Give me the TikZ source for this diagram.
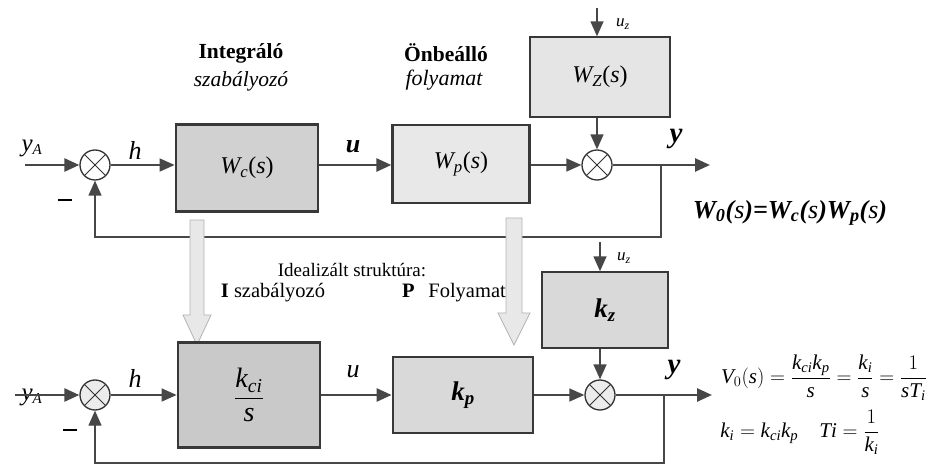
\documentclass[tikz,border=0pt]{standalone}
\usepackage{fontspec}
\setmainfont{Liberation Serif}[ItalicFont={Liberation Serif Italic}, BoldFont={Liberation Serif Bold}, BoldItalicFont={Liberation Serif Bold Italic}]
\usetikzlibrary{arrows.meta,calc}
\newcommand\mi[1]{\mathit{#1}}
\begin{document}
\begin{tikzpicture}[x=1pt,y=-1pt,
  tip/.style={-{Triangle[length=15pt,width=13pt]}},
  conn/.style={draw=black!72, line width=2.6pt, tip},
  thinconn/.style={draw=black!72, line width=1.5pt, tip},
  fb/.style={draw=black!72, line width=1.3pt},
  fbarrow/.style={fb, tip},
  blk/.style={draw=black!78, line width=2.8pt, inner sep=0pt},
  blkthin/.style={draw=black!78, line width=1.4pt, inner sep=0pt},
  sum/.style={circle, draw=black!80, line width=1.3pt, minimum size=30pt, inner sep=0pt, fill=white,
    path picture={\draw[line width=1pt,black!80] (path picture bounding box.north west)--(path picture bounding box.south east)
      (path picture bounding box.north east)--(path picture bounding box.south west);}},
  hollow/.style={fill=gray!18, draw=gray!60, line width=0.8pt},
  lbl/.style={inner sep=0pt, font=\fontsize{25}{28}\selectfont},
  txt/.style={inner sep=0pt, font=\fontsize{19}{22}\selectfont},
]
\useasboundingbox (0,0) rectangle (935,470);

% ---------- top row ----------
\node[txt, font=\fontsize{21.5}{24}\selectfont\bfseries] (t1) at (241,53) {Integráló};
\node[txt, font=\fontsize{21.5}{24}\selectfont\itshape] (t2) at (241,81) {szabályozó};
\node[txt, font=\fontsize{21.5}{24}\selectfont\bfseries] (t3) at (446,53) {Önbeálló};
\node[txt, font=\fontsize{22}{24}\selectfont\itshape] (t4) at (444,80) {folyamat};

\node[sum] (sA) at (95,165) {};
\node[blk, fill=gray!36, minimum width=142pt, minimum height=87pt, font=\fontsize{24}{26}\selectfont] (Wc) at (247,168) {\textit{W\textsubscript{c}}(\textit{s})};
\node[blk, line width=2.2pt, fill=gray!18, minimum width=137pt, minimum height=78pt, font=\fontsize{24}{26}\selectfont] (Wp) at (461,164) {\textit{W\textsubscript{p}}(\textit{s})};
\node[sum] (sB) at (597,165) {};
\node[blkthin, fill=gray!20, minimum width=140pt, minimum height=80pt, font=\fontsize{24}{26}\selectfont] (Wz) at (600,77) {\textit{W\textsubscript{Z}}(\textit{s})};

\coordinate (inA) at (25,165);
\coordinate (outA) at (710,165);
\coordinate (uzA) at (597,8);
\coordinate (brA) at (661,165);
\coordinate (fbA) at (661,237);

\node[lbl, font=\fontsize{25}{28}\selectfont\itshape] (yA) at (32,148) {y\textsubscript{\fontsize{15}{18}\selectfont A}};
\node[lbl, font=\fontsize{26}{28}\selectfont\itshape] (hA) at (135,150) {h};
\node[lbl, font=\fontsize{26}{28}\selectfont\bfseries\itshape] (uA) at (353,147) {u};
\node[lbl, font=\fontsize{29}{30}\selectfont\bfseries\itshape] (yoA) at (676,139) {y};
\node[txt, font=\fontsize{17}{18}\selectfont\itshape] (uzlA) at (623,24) {u\textsubscript{z}};
\node[inner sep=0pt] (mA) at (65,200) {\rule{14pt}{1.6pt}};

\draw[conn] (inA) -- (sA);
\draw[thinconn] (sA) -- (sA -| Wc.west);
\draw[conn] (Wc.east |- sA) -- (Wp.west |- sA);
\draw[thinconn] (Wp.east |- sA) -- (sB);
\draw[conn] (sB) -- (outA);
\draw[thinconn] (uzA) -- (uzA |- Wz.north);
\draw[thinconn] (sB |- Wz.south) -- (sB);
\draw[fbarrow] (brA) -- (fbA) -| (sA.south);

\node[inner sep=0pt, font=\fontsize{26}{28}\selectfont\bfseries\itshape] (W0) at (790,213)
  {W\textsubscript{0}(\textmd{s})=W\textsubscript{c}(\textmd{s})W\textsubscript{p}(\textmd{s})};

% ---------- hollow arrows ----------
\draw[hollow] (190,220) -- (190,315) -- (183,315) -- (197,345) -- (211,315) -- (204,315) -- (204,220) -- cycle;
\draw[hollow] (506,218) -- (506,313) -- (498,313) -- (514,345) -- (530,313) -- (522,313) -- (522,218) -- cycle;

% ---------- middle text ----------
\node[txt] (m1) at (352,270) {Idealizált struktúra:};
\node[txt, font=\fontsize{20.5}{22}\selectfont] (m2) at (273,293) {\textbf{I} szabályozó};
\node[txt, font=\fontsize{20.5}{22}\selectfont] (m3) at (454,293) {\textbf{P}\ \ \,Folyamat};

% ---------- bottom row ----------
\node[sum, fill=gray!15] (sC) at (95,395) {};
\node[blk, fill=gray!42, minimum width=142pt, minimum height=105pt, font=\fontsize{28}{30}\selectfont] (Kc) at (249,395)
  {$\displaystyle\frac{\mi{k}_{\mi{ci}}}{\mi{s}}$};
\node[blk, fill=gray!30, minimum width=140pt, minimum height=76pt, font=\fontsize{27}{30}\selectfont\bfseries\itshape] (Kp) at (463,395) {k\textsubscript{p}};
\node[sum, fill=gray!15] (sD) at (600,395) {};
\node[blkthin, fill=gray!30, minimum width=126pt, minimum height=76pt, font=\fontsize{27}{30}\selectfont\bfseries\itshape] (Kz) at (605,310) {k\textsubscript{z}};

\coordinate (inC) at (15,395);
\coordinate (outC) at (712,395);
\coordinate (uzC) at (600,242);
\coordinate (brC) at (664,395);
\coordinate (fbC) at (664,463);

\node[lbl, font=\fontsize{25}{28}\selectfont\itshape] (yC) at (32,397) {y\textsubscript{\fontsize{15}{18}\selectfont A}};
\node[lbl, font=\fontsize{26}{28}\selectfont\itshape] (hC) at (135,378) {h};
\node[lbl, font=\fontsize{26}{28}\selectfont\itshape] (uC) at (353,372) {u};
\node[lbl, font=\fontsize{29}{30}\selectfont\bfseries\itshape] (yoC) at (674,370) {y};
\node[txt, font=\fontsize{17}{18}\selectfont\itshape] (uzlC) at (624,258) {u\textsubscript{z}};
\node[inner sep=0pt] (mC) at (70,430) {\rule{14pt}{1.6pt}};

\draw[conn] (inC) -- (sC);
\draw[thinconn] (sC) -- (Kc.west);
\draw[conn] (Kc.east) -- (Kp.west);
\draw[thinconn] (Kp.east) -- (sD);
\draw[conn] (sD) -- (outC);
\draw[thinconn] (uzC) -- (uzC |- Kz.north);
\draw[thinconn] (sD |- Kz.south) -- (sD);
\draw[fbarrow] (brC) -- (fbC) -| (sC.south);

% ---------- formulas ----------
\node[inner sep=0pt, font=\fontsize{21}{24}\selectfont] (V0) at (824,378)
  {$\mi{V}_0(\mi{s})=\displaystyle\frac{\mi{k}_{\mi{ci}}\mi{k}_{\mi{p}}}{\mi{s}}=\frac{\mi{k}_{\mi{i}}}{\mi{s}}=\frac{1}{\mi{s}\mi{T}_{\mi{i}}}$};
\node[inner sep=0pt, font=\fontsize{21}{24}\selectfont] (ki) at (800,432)
  {$\mi{k}_{\mi{i}}=\mi{k}_{\mi{ci}}\mi{k}_{\mi{p}}\quad \mi{Ti}=\displaystyle\frac{1}{\mi{k}_{\mi{i}}}$};
\end{tikzpicture}
\end{document}
